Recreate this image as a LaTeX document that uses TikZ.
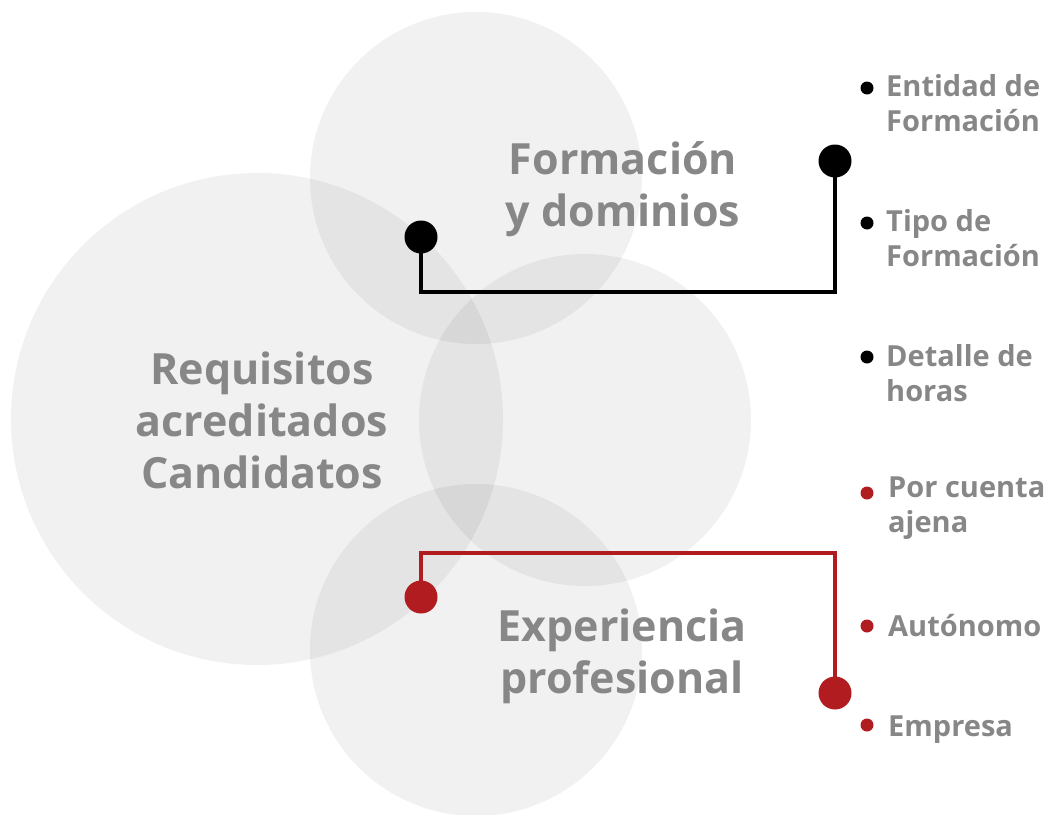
\documentclass[tikz,border=0pt]{standalone}
\usepackage{fontspec}
\setmainfont{Open Sans}
\definecolor{txtgray}{HTML}{878787}
\definecolor{accred}{HTML}{B01C20}
\begin{document}
\begin{tikzpicture}[x=1pt,y=-1pt,
  bubble/.style={fill=black,fill opacity=0.055,draw=none},
  title/.style={text=txtgray,font=\fontsize{43}{52}\selectfont\bfseries,align=center,inner sep=0pt},
  label/.style={text=txtgray,font=\fontsize{29}{35}\selectfont\bfseries,align=left,inner sep=0pt,anchor=west},
  bigdot/.style={circle,fill=#1,minimum size=33pt,inner sep=0pt},
  smalldot/.style={circle,fill=#1,minimum size=13pt,inner sep=0pt},
  link/.style={line width=3.5pt,draw=#1,line join=miter}]
\useasboundingbox (0,0) rectangle (1049,814);
% bubbles
\fill[bubble] (257,419) circle (246);
\fill[bubble] (476,178) circle (166);
\fill[bubble] (585,420) circle (166);
\fill[bubble] (476,650) circle (166);
% titles
\node[title] (form) at (623,189) {Formación\\y dominios};
\node[title] (req) at (262,420) {Requisitos\\acreditados\\Candidatos};
\node[title] (exp) at (622,656) {Experiencia\\profesional};
% connector dots
\node[bigdot=black] (b1) at (421,237) {};
\node[bigdot=black] (b2) at (835,161) {};
\node[bigdot=accred] (r1) at (421,597) {};
\node[bigdot=accred] (r2) at (835,693) {};
\draw[link=black] (b1.center) |- (835,292) coordinate (bc) -- (b2.center);
\draw[link=accred] (r1.center) |- (835,553) coordinate (rc) -- (r2.center);
% bullet list
\node[smalldot=black] (d1) at (867,88) {};
\node[label] (l1) at (886,103) {Entidad de\\Formación};
\node[smalldot=black] (d2) at (867,223) {};
\node[label] (l2) at (886,238) {Tipo de\\Formación};
\node[smalldot=black] (d3) at (867,357) {};
\node[label] (l3) at (886,373) {Detalle de\\horas};
\node[smalldot=accred] (d4) at (867,493) {};
\node[label] (l4) at (888,508) {Por cuenta\\ajena};
\node[smalldot=accred] (d5) at (867,626) {};
\node[label,anchor=base west] (l5) at (888,636) {Autónomo};
\node[smalldot=accred] (d6) at (867,725) {};
\node[label,anchor=base west] (l6) at (888,736) {Empresa};
\end{tikzpicture}
\end{document}
